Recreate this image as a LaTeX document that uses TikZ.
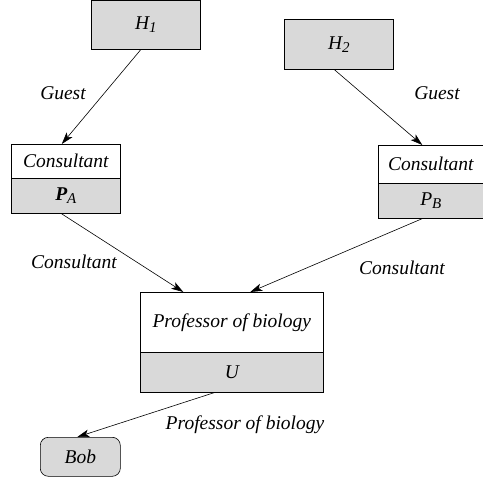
\documentclass[tikz,border=0pt]{standalone}
\usepackage{fontspec}
\setmainfont{Liberation Serif}
\usetikzlibrary{arrows.meta,calc}
\definecolor{boxgray}{HTML}{D9D9D9}
\tikzset{
  gbox/.style={draw, fill=boxgray, line width=0.6pt, inner sep=0pt, anchor=north west, font=\itshape\fontsize{19.5}{22}\selectfont},
  wbox/.style={gbox, fill=white},
  arr/.style={line width=0.6pt, -{Stealth[length=12pt,width=7.5pt,inset=3pt]}},
  lbl/.style={font=\itshape\fontsize{19.5}{22}\selectfont}
}
\newcommand{\sbs}[1]{\raisebox{-0.35ex}{\fontsize{15}{16}\selectfont\mdseries #1}}
\begin{document}
\begin{tikzpicture}[x=1pt,y=-1pt]
\useasboundingbox (0,0) rectangle (483,477);
% H boxes
\node[gbox, minimum width=109pt, minimum height=49pt] (H1) at (91,0) {H\sbs{1}};
\node[gbox, minimum width=109pt, minimum height=50pt] (H2) at (284,19) {H\sbs{2}};
% PA
\node[wbox, minimum width=109pt, minimum height=34pt] (PAt) at (11,144) {Consultant};
\node[gbox, minimum width=109pt, minimum height=35pt] (PAb) at (11,178) {\textbf{P}\sbs{A}};
% PB
\node[wbox, minimum width=105pt, minimum height=38pt] (PBt) at (378,145) {Consultant};
\node[gbox, minimum width=105pt, minimum height=35pt] (PBb) at (378,183) {P\sbs{B}};
% U
\node[wbox, minimum width=183pt, minimum height=60pt] (Ut) at (140,292) {Professor of biology};
\node[gbox, minimum width=183pt, minimum height=40pt] (Ub) at (140,352) {U};
% Bob
\node[gbox, rounded corners=8pt, minimum width=80pt, minimum height=39pt] (Bob) at (40,437) {Bob};
% arrows
\draw[arr] ([xshift=-5pt]H1.south) -- ([xshift=-4pt]PAt.north);
\draw[arr] ([xshift=-4.5pt]H2.south) -- ([xshift=-8.5pt]PBt.north);
\draw[arr] ([xshift=-4.5pt]PAb.south) -- ([xshift=-48.5pt]Ut.north);
\draw[arr] ([xshift=-8.5pt]PBb.south) -- ([xshift=18.5pt]Ut.north);
\draw[arr] ([xshift=-17.5pt]Ub.south) -- ([xshift=-3pt]Bob.north);
% labels
\node[lbl] (g1) at (63,93) {Guest};
\node[lbl] (g2) at (437,93) {Guest};
\node[lbl] (c1) at (74,262) {Consultant};
\node[lbl] (c2) at (402,268) {Consultant};
\node[lbl] (pb) at (245,425) {Professor of biology};
\end{tikzpicture}
\end{document}
